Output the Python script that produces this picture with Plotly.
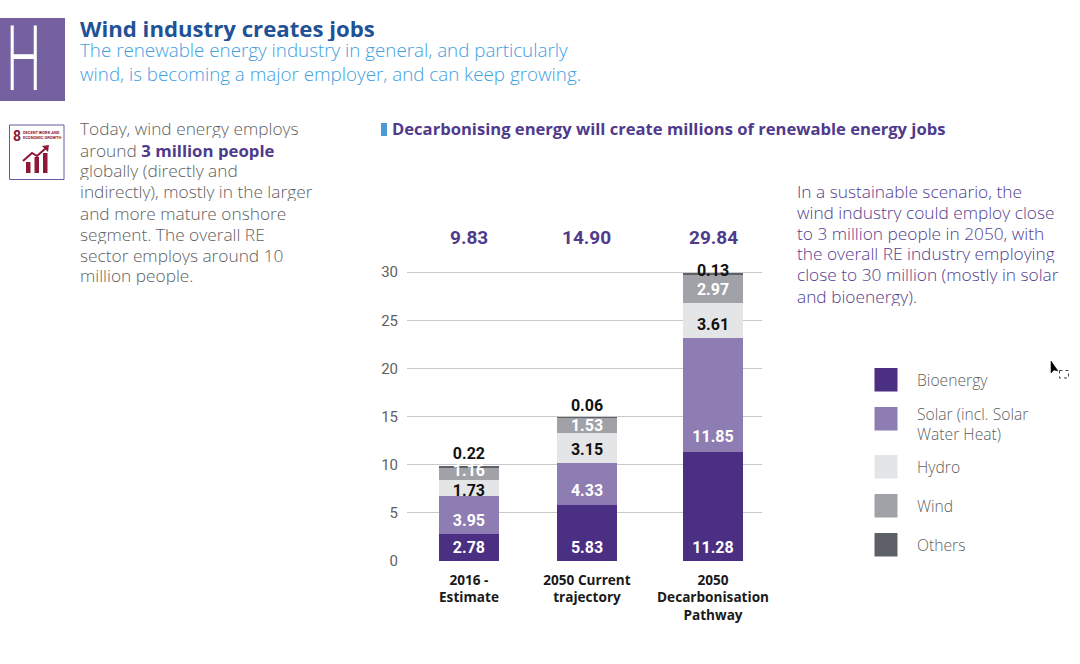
import plotly.graph_objects as go

W, H = 1080, 664

categories = ["2016 -<br>Estimate", "2050 Current<br>trajectory", "2050<br>Decarbonisation<br>Pathway"]
bar_x = [0, 1, 2.068]
totals = ["9.83", "14.90", "29.84"]

series_names = ["Bioenergy", "Solar (incl. Solar<br>Water Heat)", "Hydro", "Wind", "Others"]
bioenergy = [2.78, 5.83, 11.28]
solar = [3.95, 4.33, 11.85]
hydro = [1.73, 3.15, 3.61]
wind = [1.16, 1.53, 2.97]
others = [0.22, 0.06, 0.13]
series_values = [bioenergy, solar, hydro, wind, others]
series_colors = ["#4A2F82", "#8E7DB2", "#E4E5E7", "#A1A2A7", "#5E6068"]
label_colors = ["#FFFFFF", "#FFFFFF", "#111111", "#FFFFFF", "#111111"]
# vertical placement of the value labels
label_y = [
    [1.26, 1.26, 1.26],
    [4.06, 7.18, 12.8],
    [7.12, 11.45, 24.44],
    [9.26, 13.94, 28.08],
    [11.03, 16.02, 30.06],
]
y_ticks = [0, 5, 10, 15, 20, 25, 30]

header_title = "Wind industry creates jobs"
header_text = ("The renewable energy industry in general, and particularly<br>"
               "wind, is becoming a major employer, and can keep growing.")
left_lines = ["Today, wind energy employs",
              "around <b><span style='color:#4F3A8C;font-size:16.8px'>3 million people</span></b>",
              "globally (directly and",
              "indirectly), mostly in the larger",
              "and more mature onshore",
              "segment. The overall RE",
              "sector employs around 10",
              "million people."]
right_lines = ["In a sustainable scenario, the",
               "wind industry could employ close",
               "to 3 million people in 2050, with",
               "the overall RE industry employing",
               "close to 30 million (mostly in solar",
               "and bioenergy)."]
chart_heading = "Decarbonising energy will create millions of renewable energy jobs"

FONT = "Open Sans"
NUMFONT = "Roboto"
GREY = "#5F5F62"
PURPLE = "#4F3A8C"
PX_PER_UNIT = 9.63
Y_ZERO = 561.0

def px(v):
    return v / W

def py(v):
    return 1 - v / H

fig = go.Figure()
for name, vals, col in zip(series_names, series_values, series_colors):
    fig.add_trace(go.Bar(x=bar_x, y=vals, name=name.replace("<br>", " "), width=0.508,
                         marker=dict(color=col, line=dict(width=0)),
                         hoverinfo="y"))
for vals, ys, col in zip(series_values, label_y, label_colors):
    fig.add_trace(go.Scatter(x=bar_x, y=ys, mode="text", text=[f"{v:.2f}" for v in vals],
                             textposition="middle center", cliponaxis=False,
                             textfont=dict(family=NUMFONT, size=16, color=col, weight="bold"),
                             hoverinfo="skip", showlegend=False))

shapes = []
ann = []

def rect(x0, y0, x1, y1, fill, line=None, lw=0, dash=None):
    ln = dict(color=line or fill, width=lw)
    if dash:
        ln["dash"] = dash
    shapes.append(dict(type="rect", xref="paper", yref="paper", x0=px(x0), x1=px(x1),
                       y0=py(y0), y1=py(y1), fillcolor=fill, layer="above", line=ln))

def text(x, y, s, size, color, anchor="left", weight=None, family=FONT, height=None):
    f = dict(family=family, size=size, color=color)
    if weight:
        f["weight"] = weight
    a = dict(xref="paper", yref="paper", x=px(x), y=py(y), text=s, showarrow=False,
             xanchor=anchor, yanchor="middle", align=anchor, font=f,
             borderpad=0, borderwidth=0)
    if height:
        a["height"] = height
    ann.append(a)

def lines(x, y0, step, items, size, color, weight=None):
    for i, s in enumerate(items):
        text(x, y0 + i * step, s, size, color, weight=weight, height=step - 1)

def path(points, close=False, **kw):
    d = " ".join(("M" if i == 0 else "L") + f"{px(a)},{py(b)}" for i, (a, b) in enumerate(points))
    shapes.append(dict(type="path", xref="paper", yref="paper", layer="above",
                       path=d + (" Z" if close else ""), **kw))

# header
rect(0, 18, 65, 101, "#7560A0")
text(23.5, 59, "H", 90, "#FFFFFF", anchor="center", weight=300, family="Roboto")
text(80, 28, header_title, 22.2, "#1F5296", weight="bold", height=26)
text(80, 62.5, header_text, 18.8, "#3FA0DE", weight=300)

# SDG icon
rect(9.5, 125, 64, 179.5, "#FFFFFF", "#6A5A9B", 1)
text(13, 135.5, "8", 14, "#8F1838", weight="bold", family=NUMFONT)
text(23, 135, "DECENT WORK AND<br>ECONOMIC GROWTH", 4, "#8F1838", weight="bold", family=NUMFONT)
for x0, y0 in [(26, 162), (34.5, 157), (43, 153)]:
    rect(x0, y0, x0 + 4.5, 173, "#8F1838")
path([(23, 161), (32, 153), (37, 156), (46, 148)], line=dict(color="#8F1838", width=2))
path([(42, 146), (49, 145), (48, 152)], close=True, fillcolor="#8F1838", line=dict(width=0))

# paragraphs
lines(80, 128.5, 21, left_lines, 17.3, GREY, weight=300)
lines(797, 190.5, 21, right_lines, 17.3, "#54408F", weight=300)

# chart heading
rect(381, 123, 387, 136, "#4A9BD6")
text(392, 129, chart_heading, 16.6, PURPLE, weight="bold")

# totals
for xv, t in zip(bar_x, totals):
    ann.append(dict(xref="x", yref="paper", x=xv, y=py(237), text=t, showarrow=False,
                    xanchor="center", yanchor="middle",
                    font=dict(family=NUMFONT, size=19, color=PURPLE, weight="bold")))

# legend
legend_tops = [368, 407, 455, 494, 533]
legend_text_y = [380, 423.5, 467, 506, 545]
for name, col, top, ty in zip(series_names, series_colors, legend_tops, legend_text_y):
    rect(874.5, top, 897.5, top + 23.5, col)
    text(917, ty, name, 15.7, GREY, weight=300)

# stray cursor captured in the screenshot
path([(1051, 361), (1051, 373), (1054, 370), (1058, 371)], close=True,
     fillcolor="#000000", line=dict(color="#000000", width=0.5))
rect(1059.5, 370.5, 1068.5, 378, "#FFFFFF", "#444444", 1, "dot")

Y_MAX = 31
fig.update_layout(
    width=W, height=H, barmode="stack", showlegend=False,
    paper_bgcolor="#FFFFFF", plot_bgcolor="#FFFFFF",
    margin=dict(l=0, r=0, t=0, b=0, autoexpand=False),
    font=dict(family=FONT),
    xaxis=dict(domain=[px(407), px(762)], range=[-0.525, 2.483], tickmode="array", automargin=False,
               tickvals=bar_x, ticktext=categories, showgrid=False, zeroline=False,
               showline=False, ticks="", ticklabelstandoff=9,
               tickfont=dict(family=FONT, size=13.6, color="#1A1A1A", weight="bold")),
    yaxis=dict(domain=[py(Y_ZERO), py(Y_ZERO - Y_MAX * PX_PER_UNIT)], range=[0, Y_MAX], automargin=False,
               tickmode="array", tickvals=y_ticks,
               ticktext=[str(v) for v in y_ticks], showgrid=True, gridcolor="#C9C9CB", gridwidth=1,
               zeroline=False, showline=False, ticks="", ticklabelstandoff=8,
               tickfont=dict(family=NUMFONT, size=15, color=GREY)),
    shapes=shapes, annotations=ann,
)

squeeze_h = """
document.body.style.margin='0';
document.querySelectorAll('.annotation-text').forEach(function(t){
  if(t.textContent==='H'){
    t.style.transformBox='fill-box';
    t.style.transformOrigin='center';
    t.style.transform='scaleX(0.55)';
  }
});
"""
fig.write_html("out.html", post_script=squeeze_h, config=dict(displayModeBar=False))
